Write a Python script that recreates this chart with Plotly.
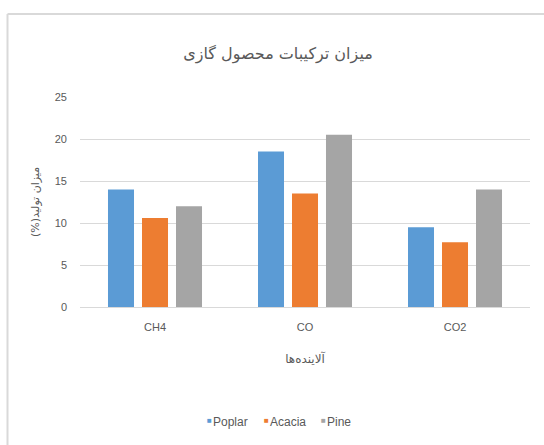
import plotly.graph_objects as go

# Gas product composition by wood type
categories = ["CH4", "CO", "CO2"]
poplar = [14.0, 18.5, 9.5]
acacia = [10.6, 13.5, 7.7]
pine = [12.0, 20.5, 14.0]
y_ticks = [0, 5, 10, 15, 20, 25]

series = [("Poplar", poplar, "#5B9BD5"),
          ("Acacia", acacia, "#ED7D31"),
          ("Pine", pine, "#A5A5A5")]

W, H = 544, 445
ml, mr, mt, mb = 80, 14, 97, 138
pw, ph = W - ml - mr, H - mt - mb

def px_x(x):
    return (x - ml) / pw

def px_y(y):
    return (H - mb - y) / ph

txt = "#595959"
font_main = "Liberation Sans, DejaVu Sans"

fig = go.Figure()
for name, vals, color in series:
    fig.add_trace(go.Bar(x=categories, y=vals, name=name, marker_color=color,
                         marker_line_width=0, showlegend=False))

# compact legend row: coloured square followed by the series name
legend_x = [205, 262, 319]
annotations = []
for (name, _, color), lx in zip(series, legend_x):
    annotations.append(dict(xref="paper", yref="paper", x=px_x(lx), y=px_y(421),
                            xanchor="left", yanchor="middle", showarrow=False,
                            text="■", font=dict(size=8, color=color)))
    annotations.append(dict(xref="paper", yref="paper", x=px_x(lx + 6), y=px_y(422),
                            xanchor="left", yanchor="middle", showarrow=False,
                            text=name, font=dict(size=12, color=txt)))

fig.update_layout(
    width=W, height=H,
    margin=dict(l=ml, r=mr, t=mt, b=mb),
    paper_bgcolor="white", plot_bgcolor="white",
    barmode="group", bargap=0.32, bargroupgap=0.235,
    font=dict(family=font_main, color=txt, size=11),
    showlegend=False,
    title=dict(text="میزان ترکیبات محصول گازی", x=278 / W, xanchor="center",
               y=1 - 53 / H, yanchor="middle",
               font=dict(family="DejaVu Sans", size=16, color=txt)),
    xaxis=dict(showgrid=False, showline=True, linecolor="#D9D9D9", linewidth=1,
               ticks="", ticklabelstandoff=10, tickfont=dict(size=11, color=txt),
               title=dict(text="آلاینده‌ها", standoff=22,
                          font=dict(family="DejaVu Sans", size=12, color=txt))),
    yaxis=dict(range=[0, 25], tickvals=y_ticks, showgrid=True, gridcolor="#D9D9D9",
               gridwidth=1, zeroline=False, showline=False, ticks="",
               ticklabelstandoff=12, tickfont=dict(size=11, color=txt),
               title=dict(text="میزان تولید(%)\u200f", standoff=12,
                          font=dict(family="DejaVu Sans", size=11, color=txt))),
    annotations=annotations,
    shapes=[
        dict(type="line", xref="paper", yref="paper",
             x0=px_x(7.5), x1=px_x(7.5), y0=px_y(14), y1=px_y(H),
             line=dict(color="#D9D9D9", width=2)),
        dict(type="line", xref="paper", yref="paper",
             x0=px_x(7.5), x1=px_x(W), y0=px_y(14), y1=px_y(14),
             line=dict(color="#D9D9D9", width=2)),
    ],
)

fig.write_html("out.html")
